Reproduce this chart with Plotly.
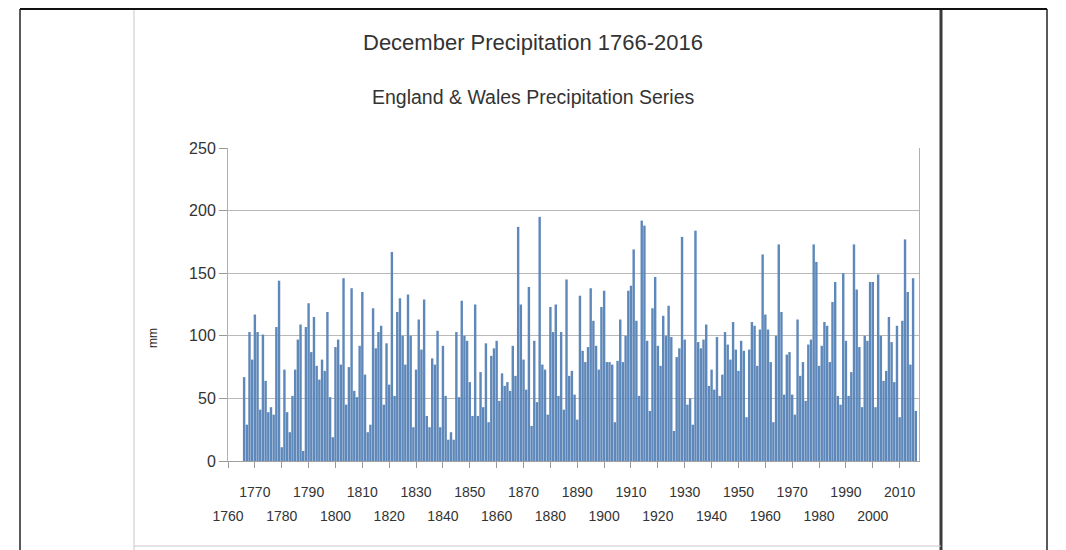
import plotly.graph_objects as go

# ---- data: December precipitation (mm), England & Wales, 1766-2016 ----
dec_1766_1785 = [67, 29, 103, 81, 117, 103, 41, 101, 64, 39, 43, 37, 107, 144, 11, 73, 39, 23, 52, 73]
dec_1786_1811 = [97, 109, 8, 107, 126, 87, 115, 76, 65, 81, 72, 119, 51, 19, 91, 97, 77, 146, 45, 75, 138, 56, 51, 92, 135, 69]
dec_1812_1837 = [23, 29, 122, 90, 103, 108, 45, 94, 61, 167, 52, 119, 130, 100, 77, 133, 100, 27, 73, 113, 89, 129, 36, 27, 82, 77]
dec_1838_1863 = [104, 27, 92, 52, 17, 23, 17, 103, 51, 128, 100, 96, 63, 36, 125, 36, 71, 43, 94, 31, 84, 90, 96, 48, 70, 60]
dec_1864_1889 = [63, 56, 92, 68, 187, 125, 81, 57, 139, 28, 96, 47, 195, 77, 73, 37, 123, 103, 125, 52, 103, 41, 145, 68, 72, 53]
dec_1890_1915 = [33, 132, 88, 79, 91, 138, 112, 92, 73, 123, 136, 79, 79, 77, 31, 80, 113, 79, 100, 136, 140, 169, 112, 52, 192, 188]
dec_1916_1941 = [96, 40, 122, 147, 92, 76, 116, 100, 124, 99, 24, 83, 90, 179, 97, 45, 50, 29, 184, 95, 90, 97, 109, 60, 73, 57]
dec_1942_1967 = [99, 52, 69, 103, 93, 81, 111, 89, 72, 96, 88, 35, 89, 111, 108, 76, 105, 165, 117, 105, 79, 31, 100, 173, 119, 53]
dec_1968_1994 = [85, 87, 53, 37, 113, 68, 79, 48, 93, 97, 173, 159, 76, 92, 111, 108, 79, 127, 143, 52, 45, 150, 96, 52, 71, 173, 137]
dec_1995_2016 = [91, 43, 100, 96, 143, 143, 43, 149, 100, 64, 72, 115, 95, 63, 108, 35, 112, 177, 135, 77, 146, 40]

precip = (dec_1766_1785 + dec_1786_1811 + dec_1812_1837 + dec_1838_1863 + dec_1864_1889
          + dec_1890_1915 + dec_1916_1941 + dec_1942_1967 + dec_1968_1994 + dec_1995_2016)
years = list(range(1766, 1766 + len(precip)))

upper_ticks = list(range(1770, 2011, 20))   # 1770, 1790, ... 2010
lower_ticks = list(range(1760, 2001, 20))   # 1760, 1780, ... 2000
y_ticks = [0, 50, 100, 150, 200, 250]

title_text = "December Precipitation 1766-2016"
subtitle_text = "England & Wales Precipitation Series"
y_title = "mm"

# ---- layout geometry (page pixels; the page body has an 8px margin) ----
OFF = 8
W, H = 1066 - OFF, 550 - OFF
L, R, T, B = 228, 919, 148, 461
PW, PH = R - L, B - T


def px(x):
    return (x - L) / PW


def py(y):
    return (B - y) / PH


FONT = "Liberation Sans, Arial, sans-serif"
TXT = "#333333"
GRID = "#b9b9b9"

fig = go.Figure()
fig.add_trace(go.Bar(
    x=years, y=precip,
    marker=dict(color="#5f88ba", line=dict(width=0)),
    xaxis="x", yaxis="y",
    hovertemplate="%{x}: %{y} mm<extra></extra>",
))
# invisible helper so the second label row (even decades) is drawn
fig.add_trace(go.Scatter(
    x=lower_ticks, y=[0] * len(lower_ticks), xaxis="x2", yaxis="y",
    mode="markers", marker=dict(opacity=0, size=1), hoverinfo="skip",
))

xrange = [1760.0, 2017.2]
common_x = dict(
    range=xrange, showgrid=False, zeroline=False,
    ticks="outside", ticklen=6, tickcolor="#999999", tickwidth=1,
    tickfont=dict(family=FONT, size=14, color=TXT),
)

fig.update_layout(
    width=W, height=H,
    margin=dict(l=L - OFF, r=W - (R - OFF), t=T - OFF, b=H - (B - OFF), pad=0),
    paper_bgcolor="white", plot_bgcolor="white",
    showlegend=False, bargap=0.1,
    xaxis=dict(
        **common_x,
        tickmode="array", tickvals=upper_ticks, ticktext=[str(v) for v in upper_ticks],
        showline=True, linecolor="#a0a0a0", linewidth=1, mirror=False,
        ticklabelstandoff=12,
    ),
    xaxis2=dict(
        **common_x,
        overlaying="x", anchor="y", side="bottom",
        tickmode="array", tickvals=lower_ticks, ticktext=[str(v) for v in lower_ticks],
        showline=False, ticklabelstandoff=36,
    ),
    yaxis=dict(
        range=[0, 250], tickmode="array", tickvals=y_ticks,
        showgrid=True, gridcolor=GRID, gridwidth=1, zeroline=False,
        showline=True, linecolor="#b0b0b0", linewidth=1, mirror=True,
        ticks="outside", ticklen=8, tickcolor="#999999",
        tickfont=dict(family=FONT, size=16, color=TXT),
    ),
    annotations=[
        dict(text=title_text, x=px(533), y=py(42), xref="paper", yref="paper",
             showarrow=False, xanchor="center", yanchor="middle",
             font=dict(family=FONT, size=22, color=TXT)),
        dict(text=subtitle_text, x=px(533), y=py(97), xref="paper", yref="paper",
             showarrow=False, xanchor="center", yanchor="middle",
             font=dict(family=FONT, size=19.5, color=TXT)),
        dict(text=y_title, x=px(153), y=py(338), xref="paper", yref="paper",
             showarrow=False, xanchor="center", yanchor="middle", textangle=-90,
             font=dict(family=FONT, size=12, color="#222222")),
    ],
    shapes=[
        # outer frame
        dict(type="line", xref="paper", yref="paper", x0=px(20), x1=px(1047), y0=py(9), y1=py(9),
             line=dict(color="#111111", width=2)),
        dict(type="line", xref="paper", yref="paper", x0=px(20), x1=px(20), y0=py(9), y1=py(560),
             line=dict(color="#222222", width=1.5)),
        dict(type="line", xref="paper", yref="paper", x0=px(1047), x1=px(1047), y0=py(9), y1=py(560),
             line=dict(color="#222222", width=1.5)),
        # inner chart panel
        dict(type="line", xref="paper", yref="paper", x0=px(134), x1=px(134), y0=py(10), y1=py(560),
             line=dict(color="#c8c8c8", width=1)),
        dict(type="line", xref="paper", yref="paper", x0=px(941), x1=px(941), y0=py(10), y1=py(560),
             line=dict(color="#3a3a3a", width=3)),
        dict(type="line", xref="paper", yref="paper", x0=px(134), x1=px(941), y0=py(546), y1=py(546),
             line=dict(color="#c8c8c8", width=1)),
    ],
)

fig.write_html("out.html")
